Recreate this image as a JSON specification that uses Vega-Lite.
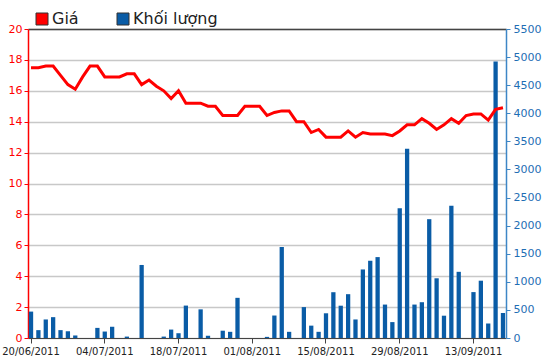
{
  "$schema": "https://vega.github.io/schema/vega-lite/v6.json",
  "width": 478,
  "height": 309,
  "autosize": "none",
  "padding": {"left": 28, "top": 29, "right": 44, "bottom": 26},
  "background": "white",
  "config": {"view": {"stroke": null}, "font": "DejaVu Sans"},
  "data": {"values": [
    {"d": "20/06/2011", "p": 17.5, "v": 470},
    {"d": "21/06/2011", "p": 17.5, "v": 140},
    {"d": "22/06/2011", "p": 17.6, "v": 330},
    {"d": "23/06/2011", "p": 17.6, "v": 371},
    {"d": "24/06/2011", "p": 17.0, "v": 140},
    {"d": "27/06/2011", "p": 16.4, "v": 120},
    {"d": "28/06/2011", "p": 16.1, "v": 45},
    {"d": "29/06/2011", "p": 16.9, "v": 0},
    {"d": "30/06/2011", "p": 17.6, "v": 0},
    {"d": "01/07/2011", "p": 17.6, "v": 180},
    {"d": "04/07/2011", "p": 16.9, "v": 115},
    {"d": "05/07/2011", "p": 16.9, "v": 200},
    {"d": "06/07/2011", "p": 16.9, "v": 0},
    {"d": "07/07/2011", "p": 17.1, "v": 25},
    {"d": "08/07/2011", "p": 17.1, "v": 0},
    {"d": "11/07/2011", "p": 16.4, "v": 1300},
    {"d": "12/07/2011", "p": 16.7, "v": 0},
    {"d": "13/07/2011", "p": 16.3, "v": 0},
    {"d": "14/07/2011", "p": 16.0, "v": 25},
    {"d": "15/07/2011", "p": 15.5, "v": 150},
    {"d": "18/07/2011", "p": 16.0, "v": 85},
    {"d": "19/07/2011", "p": 15.2, "v": 577},
    {"d": "20/07/2011", "p": 15.2, "v": 0},
    {"d": "21/07/2011", "p": 15.2, "v": 510},
    {"d": "22/07/2011", "p": 15.0, "v": 40},
    {"d": "25/07/2011", "p": 15.0, "v": 0},
    {"d": "26/07/2011", "p": 14.4, "v": 130},
    {"d": "27/07/2011", "p": 14.4, "v": 110},
    {"d": "28/07/2011", "p": 14.4, "v": 715},
    {"d": "29/07/2011", "p": 15.0, "v": 0},
    {"d": "01/08/2011", "p": 15.0, "v": 0},
    {"d": "02/08/2011", "p": 15.0, "v": 0},
    {"d": "03/08/2011", "p": 14.4, "v": 20},
    {"d": "04/08/2011", "p": 14.6, "v": 400},
    {"d": "05/08/2011", "p": 14.7, "v": 1620},
    {"d": "08/08/2011", "p": 14.7, "v": 110},
    {"d": "09/08/2011", "p": 14.0, "v": 0},
    {"d": "10/08/2011", "p": 14.0, "v": 550},
    {"d": "11/08/2011", "p": 13.3, "v": 220},
    {"d": "12/08/2011", "p": 13.5, "v": 110},
    {"d": "15/08/2011", "p": 13.0, "v": 440},
    {"d": "16/08/2011", "p": 13.0, "v": 815},
    {"d": "17/08/2011", "p": 13.0, "v": 575},
    {"d": "18/08/2011", "p": 13.4, "v": 780},
    {"d": "19/08/2011", "p": 13.0, "v": 330},
    {"d": "22/08/2011", "p": 13.3, "v": 1220},
    {"d": "23/08/2011", "p": 13.2, "v": 1375},
    {"d": "24/08/2011", "p": 13.2, "v": 1440},
    {"d": "25/08/2011", "p": 13.2, "v": 595},
    {"d": "26/08/2011", "p": 13.1, "v": 283},
    {"d": "29/08/2011", "p": 13.4, "v": 2310},
    {"d": "30/08/2011", "p": 13.8, "v": 3370},
    {"d": "31/08/2011", "p": 13.8, "v": 595},
    {"d": "01/09/2011", "p": 14.2, "v": 637},
    {"d": "05/09/2011", "p": 13.9, "v": 2115},
    {"d": "06/09/2011", "p": 13.5, "v": 1063},
    {"d": "07/09/2011", "p": 13.8, "v": 397},
    {"d": "08/09/2011", "p": 14.2, "v": 2355},
    {"d": "09/09/2011", "p": 13.9, "v": 1178},
    {"d": "12/09/2011", "p": 14.4, "v": 0},
    {"d": "13/09/2011", "p": 14.5, "v": 817},
    {"d": "14/09/2011", "p": 14.5, "v": 1020},
    {"d": "15/09/2011", "p": 14.1, "v": 258},
    {"d": "16/09/2011", "p": 14.8, "v": 4920},
    {"d": "19/09/2011", "p": 14.9, "v": 445}
  ]},
  "layer": [
    {
      "mark": {"type": "bar"},
      "encoding": {
        "x": {
          "field": "d", "type": "ordinal", "sort": null,
          "scale": {"paddingInner": 0.42, "paddingOuter": 0.12},
          "axis": {
            "orient": "bottom", "title": null, "labelAngle": 0,
            "values": ["20/06/2011", "04/07/2011", "18/07/2011", "01/08/2011", "15/08/2011", "29/08/2011", "13/09/2011"],
            "labelFontSize": 10, "labelColor": "#222222", "labelFont": "DejaVu Sans",
            "tickColor": "#444444", "domainColor": "#444444", "tickSize": 5, "labelPadding": 3,
            "labelOverlap": false, "grid": false
          }
        },
        "y": {
          "field": "v", "type": "quantitative",
          "scale": {"domain": [0, 5500], "nice": false},
          "axis": {
            "orient": "right", "title": null, "grid": false, "format": "d",
            "values": [0, 500, 1000, 1500, 2000, 2500, 3000, 3500, 4000, 4500, 5000, 5500],
            "labelColor": "#1e6eb4", "domainColor": "#3d86c6", "tickColor": "#3d86c6",
            "labelFontSize": 11, "labelFont": "DejaVu Sans", "tickSize": 4, "labelPadding": 3, "domainWidth": 1.5
          }
        },
        "color": {
          "datum": "Khối lượng", "type": "nominal",
          "scale": {"domain": ["Giá", "Khối lượng"], "range": ["#ff0000", "#0a5ca6"]},
          "legend": {
            "orient": "none", "legendX": 6, "legendY": -18, "direction": "horizontal",
            "title": null, "symbolType": "square", "symbolSize": 144,
            "symbolStrokeColor": "#333333", "symbolStrokeWidth": 1, "symbolOpacity": 1,
            "labelFontSize": 16, "labelFont": "DejaVu Sans", "labelColor": "#222222",
            "labelOffset": 2, "columnPadding": 36, "padding": 0
          }
        }
      }
    },
    {
      "mark": {"type": "line", "color": "#ff0000", "strokeWidth": 3},
      "encoding": {
        "x": {
          "field": "d", "type": "ordinal", "sort": null,
          "axis": {"orient": "top", "title": null, "labels": false, "ticks": false, "grid": false, "domainColor": "#444444", "domainWidth": 1.5}
        },
        "y": {
          "field": "p", "type": "quantitative",
          "scale": {"domain": [0, 20], "nice": false},
          "axis": {
            "orient": "left", "title": null,
            "values": [0, 2, 4, 6, 8, 10, 12, 14, 16, 18, 20],
            "labelColor": "#ff0000", "domainColor": "#ff0000", "tickColor": "#ff0000",
            "labelFontSize": 11, "labelFont": "DejaVu Sans", "tickSize": 4, "labelPadding": 2, "domainWidth": 1.5,
            "grid": true, "gridColor": "#c8c8c8", "gridWidth": 1.5
          }
        }
      }
    }
  ],
  "resolve": {"scale": {"y": "independent"}, "axis": {"x": "independent"}}
}
